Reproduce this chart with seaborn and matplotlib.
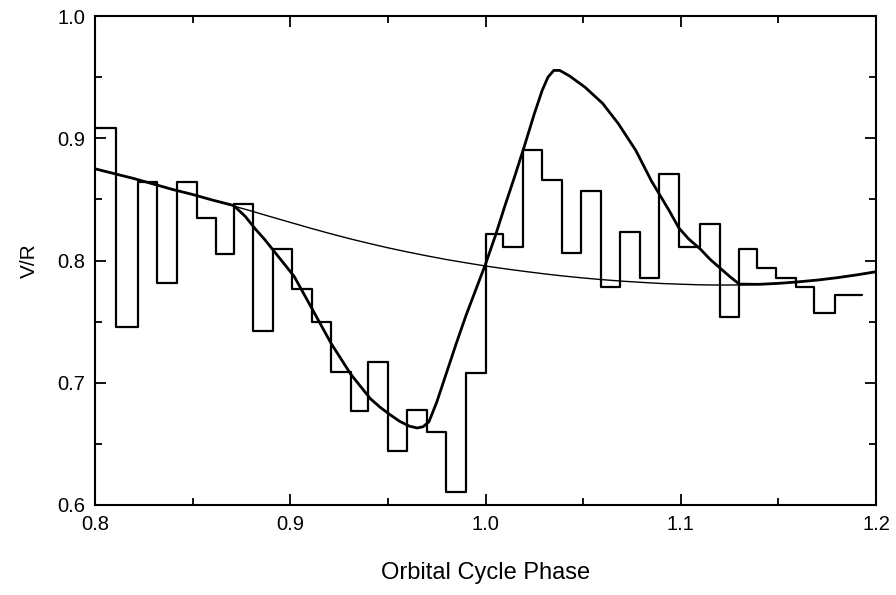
import matplotlib
matplotlib.use("Agg")
import matplotlib.pyplot as plt
from matplotlib.ticker import MultipleLocator, FormatStrFormatter
import seaborn as sns
import pandas as pd

# Binned V/R measurements: bin edges in orbital phase and the value in each bin
bin_edges = [0.800, 0.811, 0.822, 0.832, 0.842, 0.852, 0.862, 0.871, 0.881, 0.891,
             0.901, 0.911, 0.921, 0.931, 0.940, 0.950, 0.960, 0.970, 0.980, 0.990,
             1.000, 1.009, 1.019, 1.029, 1.039, 1.049, 1.059, 1.069, 1.079, 1.089,
             1.099, 1.110, 1.120, 1.130, 1.139, 1.149, 1.159, 1.168, 1.179, 1.193]
bin_vr = [0.908, 0.746, 0.864, 0.782, 0.864, 0.835, 0.805, 0.846, 0.742, 0.809,
          0.777, 0.750, 0.709, 0.677, 0.717, 0.644, 0.678, 0.660, 0.611, 0.708,
          0.822, 0.811, 0.890, 0.866, 0.806, 0.857, 0.778, 0.823, 0.786, 0.871,
          0.811, 0.830, 0.754, 0.809, 0.794, 0.786, 0.778, 0.757, 0.772]

# Slowly varying baseline V/R trend
base_phase = [0.80, 0.81, 0.82, 0.83, 0.84, 0.85, 0.86, 0.87, 0.88, 0.89, 0.90,
              0.91, 0.92, 0.93, 0.94, 0.95, 0.96, 0.97, 0.98, 0.99, 1.00, 1.01,
              1.02, 1.03, 1.04, 1.05, 1.06, 1.07, 1.08, 1.09, 1.10, 1.11, 1.12,
              1.13, 1.14, 1.15, 1.16, 1.17, 1.18, 1.19, 1.20]
base_vr = [0.875, 0.871, 0.867, 0.8625, 0.858, 0.854, 0.8495, 0.845, 0.8405, 0.8358, 0.8312,
           0.8266, 0.8222, 0.8180, 0.8141, 0.8104, 0.8070, 0.8038, 0.8008, 0.7981, 0.7955,
           0.7932, 0.7911, 0.7891, 0.7873, 0.7857, 0.7843, 0.7831, 0.7821, 0.7812, 0.7806,
           0.7801, 0.7799, 0.7800, 0.7805, 0.7813, 0.7825, 0.7840, 0.7859, 0.7882, 0.7908]

# Model V/R curve through the disturbance
model_phase = [0.80, 0.81, 0.82, 0.83, 0.84, 0.85, 0.86, 0.871, 0.877, 0.882, 0.887,
               0.892, 0.897, 0.902, 0.911, 0.921, 0.931, 0.941, 0.946, 0.951, 0.956,
               0.961, 0.965, 0.968, 0.971, 0.975, 0.980, 0.985, 0.990, 0.995, 1.000,
               1.005, 1.010, 1.015, 1.020, 1.025, 1.029, 1.032, 1.035, 1.038, 1.043,
               1.051, 1.060, 1.068, 1.077, 1.085, 1.094, 1.099, 1.104, 1.110, 1.115,
               1.120, 1.125, 1.130, 1.14, 1.15, 1.16, 1.17, 1.18, 1.19, 1.20]
model_vr = [0.875, 0.871, 0.867, 0.8625, 0.858, 0.854, 0.8495, 0.845, 0.836, 0.826, 0.817,
            0.807, 0.797, 0.787, 0.761, 0.732, 0.707, 0.687, 0.680, 0.674, 0.6685,
            0.6645, 0.663, 0.664, 0.668, 0.684, 0.708, 0.732, 0.755, 0.776, 0.797,
            0.820, 0.845, 0.869, 0.894, 0.920, 0.939, 0.950, 0.9555, 0.9555, 0.951,
            0.9417, 0.9285, 0.912, 0.890, 0.865, 0.841, 0.8267, 0.8177, 0.8094, 0.801,
            0.794, 0.787, 0.7807, 0.7805, 0.7813, 0.7825, 0.7840, 0.7859, 0.7882, 0.7908]

x_ticks = [0.8, 0.9, 1.0, 1.1, 1.2]
y_ticks = [0.6, 0.7, 0.8, 0.9, 1.0]

sns.set_theme(style="white")
plt.rcParams["font.family"] = ["Liberation Sans", "DejaVu Sans"]
plt.rcParams["axes.edgecolor"] = "black"
plt.rcParams["axes.linewidth"] = 1.5

fig = plt.figure(figsize=(8.96, 5.95), dpi=100)
ax = fig.add_axes([95 / 896, 1 - 505 / 595, (876 - 95) / 896, (505 - 16) / 595])

step_df = pd.DataFrame({"phase": bin_edges, "vr": bin_vr + [bin_vr[-1]]})
base_df = pd.DataFrame({"phase": base_phase, "vr": base_vr})
model_df = pd.DataFrame({"phase": model_phase, "vr": model_vr})

sns.lineplot(data=step_df, x="phase", y="vr", ax=ax, color="black", lw=1.6,
             drawstyle="steps-post", estimator=None, sort=False)
sns.lineplot(data=base_df, x="phase", y="vr", ax=ax, color="black", lw=1.0,
             estimator=None, sort=False)
sns.lineplot(data=model_df, x="phase", y="vr", ax=ax, color="black", lw=2.0,
             estimator=None, sort=False, solid_joinstyle="round")

ax.set_xlim(0.8, 1.2)
ax.set_ylim(0.6, 1.0)
ax.set_xticks(x_ticks)
ax.set_yticks(y_ticks)
ax.xaxis.set_major_formatter(FormatStrFormatter("%.1f"))
ax.yaxis.set_major_formatter(FormatStrFormatter("%.1f"))
ax.xaxis.set_minor_locator(MultipleLocator(0.05))
ax.yaxis.set_minor_locator(MultipleLocator(0.05))
ax.tick_params(which="both", direction="in", top=True, right=True, bottom=True, left=True,
               color="black", width=1.3, labelsize=14.5, labelcolor="black")
ax.tick_params(which="major", length=8, pad=7)
ax.tick_params(which="minor", length=5)

ax.set_xlabel("Orbital Cycle Phase", fontsize=17, labelpad=20, color="black")
ax.set_ylabel("V/R", fontsize=15, labelpad=13, color="black")
for s in ax.spines.values():
    s.set_visible(True)

fig.savefig("out.png", dpi=100)
